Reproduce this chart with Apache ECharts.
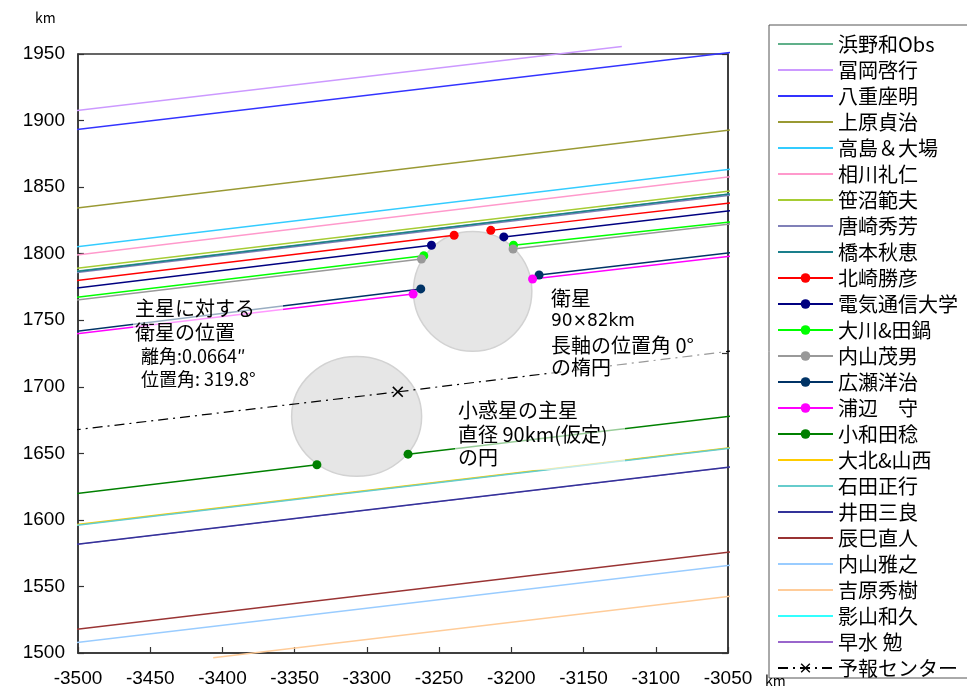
<!DOCTYPE html>
<html>
<head>
<meta charset="utf-8">
<script src="https://cdn.jsdelivr.net/npm/echarts@6/dist/echarts.min.js"></script>
<style>
  html, body { margin: 0; padding: 0; background: #fff; }
  #chart { width: 967px; height: 699px; }
</style>
</head>
<body>
<div id="chart"></div>
<script>
// Observer names, in legend order
const observers = [
  '浜野和Obs', '冨岡啓行', '八重座明', '上原貞治', '高島＆大場', '相川礼仁',
  '笹沼範夫', '唐崎秀芳', '橋本秋恵', '北崎勝彦', '電気通信大学', '大川&田鍋',
  '内山茂男', '広瀬洋治', '浦辺　守', '小和田稔', '大北&山西', '石田正行',
  '井田三良', '辰巳直人', '内山雅之', '吉原秀樹', '影山和久', '早水 勉'
];
const forecastName = '予報センター';

// Chord ends (km): west end x/y and east end x/y for every observer track
const westX = [-3505, -3505, -3505, -3505, -3505, -3505, -3505, -3505, -3505, -3505, -3505, -3505,
               -3505, -3505, -3505, -3505, -3505, -3505, -3505, -3505, -3505, -3406.4, -3505, -3505];
const westY = [1786.5, 1907.0, 1892.7, 1833.8, 1804.7, 1798.5, 1788.5, 1785.3, 1786.0, 1779.2, 1773.7, 1766.7,
               1764.7, 1741.1, 1739.3, 1619.3, 1595.9, 1595.5, 1581.2, 1517.3, 1507.3, 1496.5, 1595.6, 1581.0];
const eastX = [-3046, -3123.5, -3046, -3046, -3046, -3046, -3046, -3046, -3046, -3046, -3046, -3046,
               -3046, -3046, -3046, -3046, -3046, -3046, -3046, -3046, -3046, -3046, -3046, -3046];
const eastY = [1845.4, 1955.7, 1951.4, 1893.2, 1863.7, 1858.1, 1847.4, 1844.3, 1845.1, 1838.4, 1832.6, 1824.1,
               1822.6, 1801.0, 1798.3, 1678.2, 1654.6, 1654.2, 1640.1, 1576.2, 1566.2, 1542.9, 1654.4, 1639.9];

// Disappearance / reappearance points (km) of the positive chords
const eventDisappear = {
  '北崎勝彦': [-3239.6, 1813.8],
  '電気通信大学': [-3255.3, 1806.3],
  '大川&田鍋': [-3260.6, 1798.5],
  '内山茂男': [-3262.2, 1796.0],
  '広瀬洋治': [-3262.7, 1773.5],
  '浦辺　守': [-3268.0, 1769.7],
  '小和田稔': [-3334.6, 1641.4]
};
const eventReappear = {
  '北崎勝彦': [-3214.2, 1817.5],
  '電気通信大学': [-3205.2, 1812.6],
  '大川&田鍋': [-3198.5, 1806.3],
  '内山茂男': [-3198.8, 1803.5],
  '広瀬洋治': [-3180.8, 1784.0],
  '浦辺　守': [-3185.3, 1781.0],
  '小和田稔': [-3271.5, 1649.4]
};

// Predicted centre path: west end, predicted centre, east end
const forecastPath = [[-3505, 1667.2], [-3278.6, 1696.2], [-3046, 1727.1]];

// Bodies: primary (90 km circle) and satellite (90 x 82 km ellipse)
const bodyCenterX = [-3307.1, -3226.8];
const bodyCenterY = [1677.7, 1771.7];
const bodyWidthKm = [90, 82];
const bodyHeightKm = [90, 90];

// Axis ranges / ticks
const xMin = -3500, xMax = -3050, xStep = 50;
const yMin = 1500, yMax = 1950, yStep = 50;

// Line colours per observer
const lineColors = [
  '#60b08a', '#cc99ff', '#3333ff', '#999933', '#33ccff', '#ff99cc',
  '#a6cc33', '#8080b8', '#1a7f8c', '#ff0000', '#000080', '#00ff00',
  '#999999', '#003366', '#ff00ff', '#008000', '#ffcc00', '#66cccc',
  '#333399', '#993333', '#99ccff', '#ffcc99', '#33ffff', '#9966cc'
];
// tracks lying underneath others
const hiddenTracks = ['浜野和Obs', '影山和久', '早水 勉'];

const CJK = '"Noto Sans CJK JP", sans-serif';
const LAT = '"Liberation Sans", Arial, sans-serif';

const series = [];

series.push({
  type: 'custom',
  name: 'bodies',
  z: 1,
  silent: true,
  clip: false,
  encode: { x: 0, y: 1 },
  data: bodyCenterX.map((cx, i) => [cx, bodyCenterY[i], bodyWidthKm[i], bodyHeightKm[i]]),
  renderItem: function (params, api) {
    const c = api.coord([api.value(0), api.value(1)]);
    const s = api.size([api.value(2), api.value(3)]);
    return {
      type: 'ellipse',
      shape: { cx: c[0], cy: c[1], rx: s[0] / 2, ry: s[1] / 2 },
      style: { fill: '#e6e6e6', stroke: '#d2d2d2', lineWidth: 1.5 }
    };
  }
});

observers.forEach((name, i) => {
  const d = eventDisappear[name];
  const r = eventReappear[name];
  const hidden = hiddenTracks.includes(name);
  const data = [{ value: [westX[i], westY[i]], symbol: 'none' }];
  if (d) {
    data.push({ value: d });
    data.push(['-', '-']);
    data.push({ value: r });
  }
  data.push({ value: [eastX[i], eastY[i]], symbol: 'none' });
  series.push({
    type: 'line',
    name: name,
    z: hidden ? 2 : 3,
    clip: false,
    connectNulls: false,
    symbol: d ? 'circle' : 'none',
    symbolSize: 9,
    showSymbol: true,
    color: lineColors[i],
    lineStyle: { color: lineColors[i], width: hidden ? 1 : 1.5 },
    itemStyle: { color: lineColors[i] },
    data: data
  });
});

series.push({
  type: 'line',
  name: forecastName,
  z: 3,
  clip: false,
  symbol: 'path://M0,1L1,0L5,4L9,0L10,1L6,5L10,9L9,10L5,6L1,10L0,9L4,5Z',
  symbolSize: 11,
  color: '#000',
  lineStyle: { color: '#000', width: 1.2, type: [10, 5, 2, 5] },
  itemStyle: { color: '#000' },
  data: [
    { value: forecastPath[0], symbol: 'none' },
    { value: forecastPath[1] },
    { value: forecastPath[2], symbol: 'none' }
  ]
});

// legend entries: only the positive chords and the forecast show a marker
const legendData = observers.map(name => eventDisappear[name]
  ? { name: name }
  : { name: name, itemStyle: { opacity: 0 } }).concat([{ name: forecastName }]);

function txt(x, y, text, size, family) {
  return {
    type: 'text', x: x, y: y, z: 101,
    style: { text: text, font: size + 'px ' + (family || CJK), fill: '#000', align: 'left', verticalAlign: 'middle' }
  };
}
function veil(x, y, w, h) {
  return {
    type: 'rect', z: 100, silent: true,
    shape: { x: x, y: y, width: w, height: h },
    style: { fill: 'rgba(255,255,255,0.6)' }
  };
}

const plain = v => String(v);

const option = {
  animation: false,
  backgroundColor: '#fff',
  grid: {
    left: 78, top: 54, right: 239, bottom: 46,
    show: true, borderColor: '#333', borderWidth: 1.5, backgroundColor: 'transparent'
  },
  xAxis: {
    type: 'value', min: xMin, max: xMax, interval: xStep,
    axisLine: { show: true, onZero: false, lineStyle: { color: '#333', width: 1.5 } },
    axisTick: { show: true, inside: true, length: 6, lineStyle: { color: '#333', width: 1.2 } },
    axisLabel: { fontSize: 19, color: '#000', fontFamily: LAT, margin: 16, formatter: plain },
    splitLine: { show: false }
  },
  yAxis: [{
    type: 'value', min: yMin, max: yMax, interval: yStep,
    axisLine: { show: true, onZero: false, lineStyle: { color: '#333', width: 1.5 } },
    axisTick: { show: true, inside: true, length: 6, lineStyle: { color: '#333', width: 1.2 } },
    axisLabel: { fontSize: 19, color: '#000', fontFamily: LAT, margin: 13, formatter: plain },
    splitLine: { show: false }
  }, {
    type: 'value', position: 'right', min: 0, max: 2, interval: 1,
    axisLine: { show: true, lineStyle: { color: '#333', width: 1.5 } },
    axisTick: { show: true, inside: true, length: 6, lineStyle: { color: '#333', width: 1.2 } },
    axisLabel: { show: false },
    splitLine: { show: false }
  }],
  legend: {
    orient: 'vertical',
    left: 769, top: 25,
    padding: [9, 40, 0, 8],
    itemWidth: 55, itemHeight: 12, itemGap: 6,
    borderColor: '#555', borderWidth: 1, backgroundColor: '#fff',
    textStyle: { fontSize: 20, lineHeight: 20, fontFamily: CJK, color: '#000' },
    data: legendData
  },
  graphic: [
    veil(133, 297, 150, 95),
    veil(455, 397, 170, 73),
    veil(548, 283, 174, 92),
    txt(35, 18, 'km', 14),
    txt(765, 681, 'km', 14),
    txt(135, 308, '主星に対する', 20),
    txt(135, 332, '衛星の位置', 20),
    txt(141, 356, '離角:0.0664″', 18),
    txt(141, 379, '位置角: 319.8°', 18),
    txt(551, 298, '衛星', 20),
    txt(551, 322, '90×82km', 17, '"DejaVu Sans", sans-serif'),
    txt(551, 345, '長軸の位置角 0°', 20),
    txt(551, 367, 'の楕円', 20),
    txt(458, 410, '小惑星の主星', 20),
    txt(458, 434, '直径 90km(仮定)', 20),
    txt(458, 457, 'の円', 20)
  ],
  series: series
};

const chart = echarts.init(document.getElementById('chart'));
chart.setOption(option);
</script>
</body>
</html>
